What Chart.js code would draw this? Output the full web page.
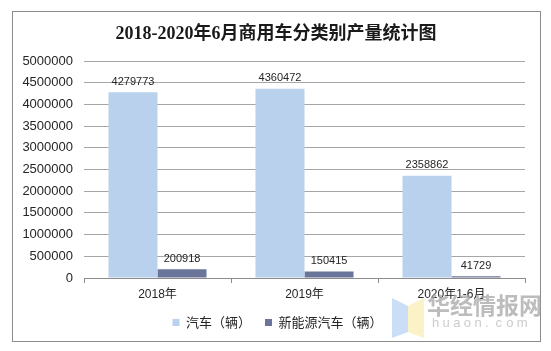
<!DOCTYPE html>
<html><head><meta charset="utf-8">
<script src="https://cdn.jsdelivr.net/npm/chart.js@4/dist/chart.umd.min.js"></script>
<style>html,body{margin:0;padding:0;background:#fff}#wrap{width:551px;height:351px;position:relative}</style>
</head><body><div id="wrap"><canvas id="c" width="551" height="351"></canvas></div>
<script>
const titleText = '2018-2020年6月商用车分类别产量统计图';
const categories = ['2018年', '2019年', '2020年1-6月'];
const seriesNames = ['汽车（辆）', '新能源汽车（辆）'];
const autoValues = [4279773, 4360472, 2358862];
const nevValues = [200918, 150415, 41729];
const yTicks = [0, 500000, 1000000, 1500000, 2000000, 2500000, 3000000, 3500000, 4000000, 4500000, 5000000];

const frame = {
  id: 'frame',
  afterLayout(chart) {
    if (chart.legend) { chart.legend.left += 9; chart.legend.right += 9; }
  },
  beforeDraw(chart) {
    const ctx = chart.ctx;
    ctx.save();
    ctx.fillStyle = '#fff';
    ctx.fillRect(0, 0, chart.width, chart.height);
    ctx.strokeStyle = '#8c8c8c';
    ctx.lineWidth = 1;
    ctx.strokeRect(12.5, 11.5, 528, 330);
    ctx.fillStyle = '#1a1a1a';
    ctx.font = 'bold 18px "Liberation Serif", "Noto Sans CJK SC", serif';
    ctx.textAlign = 'center';
    ctx.textBaseline = 'middle';
    ctx.fillText(titleText, 276, 34);
    ctx.restore();
  },
  afterDraw(chart) {
    const ctx = chart.ctx;
    ctx.save();
    // data labels
    ctx.font = '11px "Liberation Sans", Arial, sans-serif';
    ctx.fillStyle = '#262626';
    ctx.textAlign = 'center';
    ctx.textBaseline = 'bottom';
    chart.data.datasets.forEach((ds, i) => {
      chart.getDatasetMeta(i).data.forEach((bar, j) => {
        ctx.fillText(String(ds.data[j]), bar.x, bar.y - 5);
      });
    });
    // watermark
    ctx.globalAlpha = 0.55;
    ctx.fillStyle = '#9fc3f2';
    ctx.beginPath();
    ctx.moveTo(392, 298); ctx.lineTo(408, 306); ctx.lineTo(408, 332); ctx.lineTo(392, 338); ctx.closePath(); ctx.fill();
    ctx.fillStyle = '#f8e79a';
    ctx.beginPath();
    ctx.moveTo(408, 306); ctx.lineTo(424, 298); ctx.lineTo(424, 338); ctx.lineTo(408, 332); ctx.closePath(); ctx.fill();
    ctx.globalAlpha = 1;
    ctx.fillStyle = 'rgba(165,165,165,0.75)';
    ctx.font = 'bold 23px "Noto Sans CJK SC", sans-serif';
    ctx.textAlign = 'left';
    ctx.textBaseline = 'middle';
    ctx.fillText('华经情报网', 427, 305);
    ctx.font = '13px "Liberation Sans", Arial, sans-serif';
    ctx.fillStyle = 'rgba(190,190,190,0.8)';
    const s = 'huaon.com';
    let x = 432;
    for (const ch of s) { ctx.fillText(ch, x, 323); x += 10.6; }
    ctx.restore();
  }
};

new Chart(document.getElementById('c'), {
  type: 'bar',
  data: {
    labels: categories,
    datasets: [
      { label: seriesNames[0], data: autoValues, backgroundColor: '#b9d1ed', barPercentage: 1, categoryPercentage: 0.667 },
      { label: seriesNames[1], data: nevValues, backgroundColor: '#6a7599', barPercentage: 1, categoryPercentage: 0.667 }
    ]
  },
  options: {
    responsive: false,
    animation: false,
    devicePixelRatio: 1,
    layout: { padding: { top: 61, left: 12, right: 26, bottom: 12 } },
    plugins: {
      title: { display: false },
      tooltip: { enabled: false },
      legend: {
        position: 'bottom',
        labels: {
          boxWidth: 7, boxHeight: 7, padding: 14,
          color: '#262626',
          font: { size: 13, family: '"Noto Sans CJK SC", "Liberation Sans", sans-serif' }
        }
      }
    },
    scales: {
      x: {
        grid: { display: true, drawOnChartArea: false, drawTicks: true, tickLength: 5, color: '#8c8c8c', offset: true },
        border: { display: true, color: '#8c8c8c' },
        ticks: { color: '#262626', padding: 4, font: { size: 12, family: '"Liberation Sans", "Noto Sans CJK SC", sans-serif' } },
        afterFit(s) { s.height = 24; }
      },
      y: {
        min: 0, max: 5000000,
        afterBuildTicks(s) { s.ticks = yTicks.map(v => ({ value: v })); },
        grid: { color: '#a6a6a6', drawTicks: false },
        border: { display: false },
        ticks: { color: '#262626', padding: 11, font: { size: 13, family: '"Liberation Sans", Arial, sans-serif' }, callback: v => String(v) },
        afterFit(s) { s.width = 72; }
      }
    }
  },
  plugins: [frame]
});
</script></body></html>
